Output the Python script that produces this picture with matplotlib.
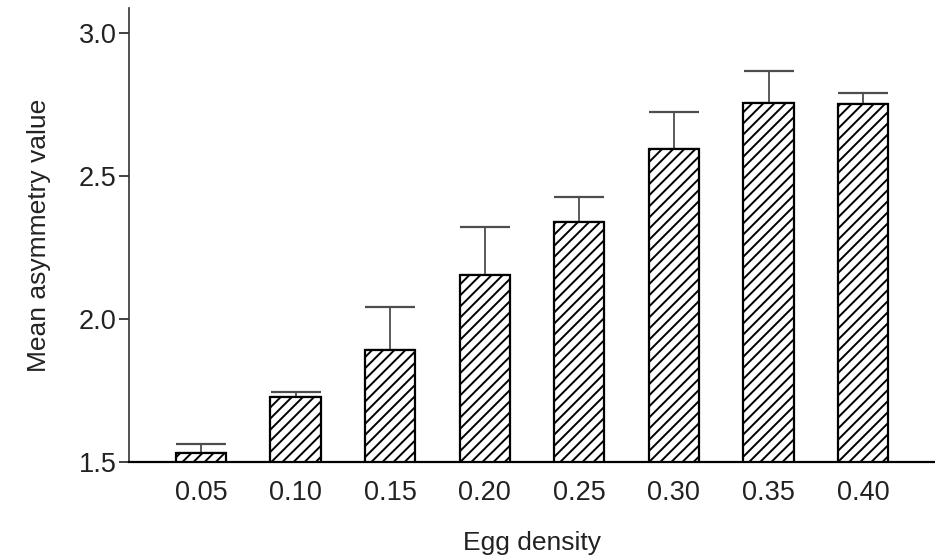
import numpy as np
import matplotlib
matplotlib.use("Agg")
import matplotlib.pyplot as plt

# Datos
densidades = ['0.05', '0.10', '0.15', '0.20', '0.25', '0.30', '0.35', '0.40']
asimetria = [1.53, 1.727, 1.892, 2.154, 2.339, 2.594, 2.755, 2.752]
error_sup = [0.033, 0.018, 0.150, 0.168, 0.088, 0.130, 0.112, 0.038]

plt.rcParams['font.family'] = ['Liberation Sans', 'DejaVu Sans']
plt.rcParams['hatch.linewidth'] = 1.4
plt.rcParams['hatch.color'] = 'black'

fig = plt.figure(figsize=(9.35, 5.57), dpi=100)
ax = fig.add_axes([0.138, 0.1706, 0.862, 0.815])

pos = np.arange(len(densidades))
ax.bar(pos, [v - 1.5 for v in asimetria], bottom=1.5, width=0.53,
       color='white', edgecolor='black', linewidth=1.6, hatch='///', zorder=3)

# Solo la barra de error superior
ax.errorbar(pos, asimetria, yerr=[np.zeros(len(error_sup)), error_sup], fmt='none',
            ecolor='0.3', elinewidth=1.3, capsize=18, capthick=1.6, zorder=2)

ax.set_xlim(-0.76, 7.76)
ax.set_ylim(1.5, 3.087)
ax.set_yticks([1.5, 2.0, 2.5, 3.0])
ax.set_yticklabels(['1.5', '2.0', '2.5', '3.0'])
ax.set_xticks(pos)
ax.set_xticklabels(densidades)

ax.tick_params(axis='y', direction='out', length=7, width=1.2, labelsize=19.5, pad=2, colors='#222222')
ax.tick_params(axis='x', length=0, labelsize=19.5, pad=13, colors='#222222')

for lado in ['top', 'right']:
    ax.spines[lado].set_visible(False)
ax.spines['left'].set_linewidth(1.2)
ax.spines['left'].set_color('#333333')
ax.spines['bottom'].set_linewidth(1.6)
ax.spines['bottom'].set_color('black')

ax.set_ylabel('Mean asymmetry value', fontsize=19, labelpad=20, color='#222222')
ax.set_xlabel('Egg density', fontsize=19, labelpad=18, color='#222222')

fig.savefig('out.png', dpi=100)
